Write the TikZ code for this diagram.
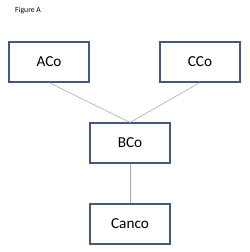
\documentclass[tikz,border=0pt]{standalone}
\usepackage{fontspec}
\setmainfont{Carlito}
\definecolor{boxedge}{HTML}{44577F}
\definecolor{linkline}{HTML}{A3AABF}
\begin{document}
\begin{tikzpicture}[
    x=0.3mm, y=-0.3mm,
    company/.style={draw=boxedge, line width=0.9pt, rectangle, minimum width=24mm, minimum height=12mm, inner sep=0pt, font=\fontsize{13}{15}\selectfont},
    link/.style={draw=linkline, line width=0.5pt},
    caption/.style={font=\fontsize{6.6}{8}\selectfont, anchor=west, inner sep=0pt}
]
\useasboundingbox (0,0) rectangle (249,252);

% --- Caption ---
\node[caption] (figlabel) at (15,11) {Figure A};

% --- Companies ---
\node[company] (aco) at (49,62) {ACo};
\node[company] (cco) at (200,62) {CCo};
\node[company] (bco) at (130,143) {BCo};
\node[company] (canco) at (130,224) {Canco};

% --- Links ---
\draw[link] (aco.south) -- (bco.north);
\draw[link] (cco.south) -- (bco.north);
\draw[link] (bco.south) -- (canco.north);

\end{tikzpicture}
\end{document}
